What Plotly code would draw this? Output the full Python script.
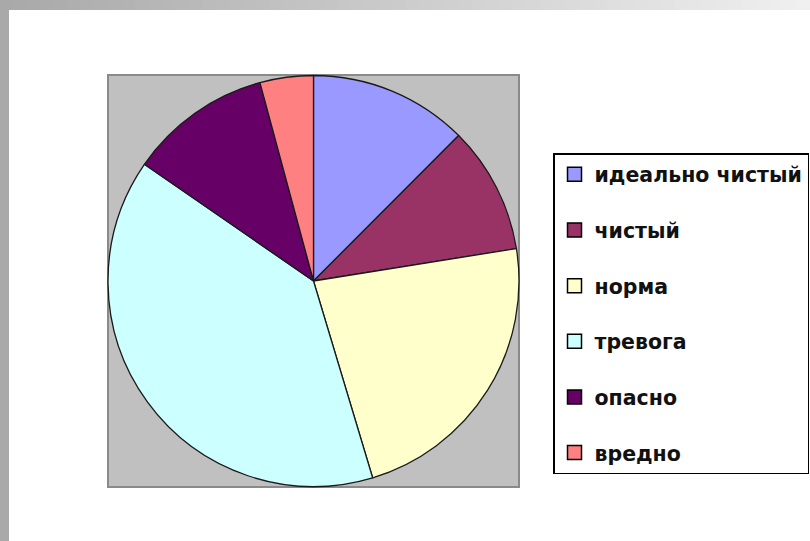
import plotly.graph_objects as go

categories = ["идеально чистый", "чистый", "норма", "тревога", "опасно", "вредно"]
values = [12.5, 10.0, 22.9, 39.3, 11.2, 4.2]
colors = ["#9999FF", "#993366", "#FFFFCC", "#CCFFFF", "#660066", "#FF8080"]

W, H = 810, 541

def px(x):
    return x / W

def py(y):
    return 1 - y / H

fig = go.Figure()

fig.add_trace(go.Pie(
    labels=categories,
    values=values,
    sort=False,
    direction="clockwise",
    rotation=0,
    textinfo="none",
    hoverinfo="label+percent",
    marker=dict(colors=colors, line=dict(color="#1a1a1a", width=1.3)),
    domain=dict(x=[px(108), px(519)], y=[py(487), py(75)]),
    showlegend=False,
))

for i, (cat, col) in enumerate(zip(categories, colors)):
    fig.add_trace(go.Scatter(
        x=[None], y=[None], mode="markers", name=cat,
        legendgroup=f"g{i}",
        marker=dict(symbol="square", size=14, color=col,
                    line=dict(color="#000000", width=1.5)),
    ))

shapes = []
# left gray strip
shapes.append(dict(type="rect", xref="paper", yref="paper",
                   x0=0, x1=px(9), y0=0, y1=1,
                   fillcolor="#a9a9a9", line=dict(width=0), layer="below"))
# top gradient strip
n = 60
c0 = (0xa9, 0xa9, 0xa9)
c1 = (0xf0, 0xf0, 0xf0)
for k in range(n):
    t = k / (n - 1)
    r = int(c0[0] + (c1[0] - c0[0]) * t)
    g = int(c0[1] + (c1[1] - c0[1]) * t)
    b = int(c0[2] + (c1[2] - c0[2]) * t)
    shapes.append(dict(type="rect", xref="paper", yref="paper",
                       x0=k / n, x1=(k + 1) / n + 0.002, y0=py(10), y1=1,
                       fillcolor=f"rgb({r},{g},{b})", line=dict(width=0),
                       layer="below"))
# plot area
shapes.append(dict(type="rect", xref="paper", yref="paper",
                   x0=px(108), x1=px(519), y0=py(487), y1=py(75),
                   fillcolor="#c0c0c0", line=dict(color="#8a8a8a", width=2),
                   layer="below"))

fig.update_layout(
    width=W, height=H,
    margin=dict(l=0, r=0, t=0, b=0, autoexpand=False),
    paper_bgcolor="#ffffff",
    plot_bgcolor="rgba(0,0,0,0)",
    xaxis=dict(visible=False),
    yaxis=dict(visible=False),
    shapes=shapes,
    legend=dict(
        x=px(553), y=py(153), xanchor="left", yanchor="top",
        bordercolor="#000000", borderwidth=1.5, bgcolor="#ffffff",
        font=dict(family="DejaVu Sans", size=20.5, color="#111111", weight="bold"),
        tracegroupgap=26,
        itemclick=False, itemdoubleclick=False,
    ),
)

fig.write_html("out.html",
               config={"displayModeBar": False},
               post_script="document.body.style.margin='0';document.body.style.overflow='hidden';")
